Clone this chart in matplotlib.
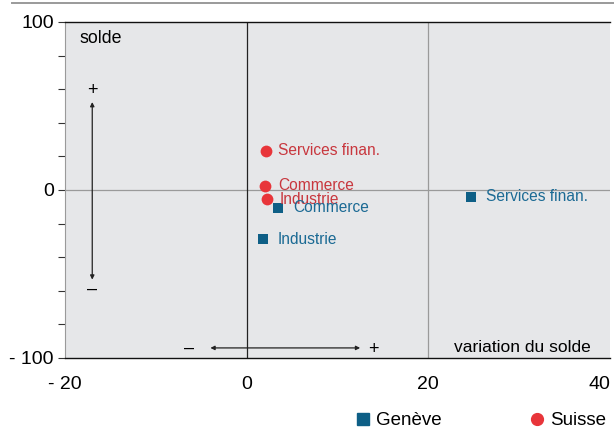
import matplotlib
matplotlib.use("Agg")
import matplotlib.pyplot as plt
from matplotlib.lines import Line2D

plt.rcParams['font.family'] = ['Liberation Sans', 'DejaVu Sans']

categories = ["Services finan.", "Commerce", "Industrie"]
suisse_x = [2.1, 2.05, 2.2]
suisse_y = [23.5, 2.5, -5.4]
geneve_x = [24.7, 3.5, 1.8]
geneve_y = [-4.0, -10.5, -29.3]

xticks = [-20, 0, 20, 40]
xticklabels = ["- 20", "0", "20", "40"]
yticks = [-100, 0, 100]
yticklabels = ["- 100", "0", "100"]

red = "#e8353a"
red_txt = "#c8373e"
blue = "#0e5f86"
blue_txt = "#1b6a94"

fig = plt.figure(figsize=(6.14, 4.28), dpi=100)
ax = fig.add_axes([65/614, 1-358/428, (610-65)/614, (358-22)/428])
ax.set_facecolor("#e6e7e9")
ax.set_xlim(-20, 40)
ax.set_ylim(-100, 100)

ax.axhline(0, color="#9a9a9a", lw=0.9, zorder=1)
ax.axvline(0, color="#222222", lw=0.9, zorder=1)
ax.axvline(20, color="#9a9a9a", lw=0.9, zorder=1)

ax.scatter(suisse_x, suisse_y, marker="o", s=72, color=red, zorder=3, linewidths=0)
ax.scatter(geneve_x, geneve_y, marker="s", s=58, color=blue, zorder=3, linewidths=0)

for x, y, t in zip(suisse_x, suisse_y, categories):
    ax.annotate(t, (x, y), xytext=(9, 0), textcoords="offset points",
                color=red_txt, fontsize=11.2, va="center", ha="left", zorder=4)
for x, y, t in zip(geneve_x, geneve_y, categories):
    ax.annotate(t, (x, y), xytext=(10.5, 0), textcoords="offset points",
                color=blue_txt, fontsize=11.2, va="center", ha="left", zorder=4)

ax.text(-18.4, 90, "solde", fontsize=12.8, va="center", ha="left")
ax.text(37.9, -94, "variation du solde", fontsize=12.5, va="center", ha="right")

ax.annotate("", xy=(-17, 54), xytext=(-17, -55),
            arrowprops=dict(arrowstyle="<|-|>", color="#222222", lw=0.9, mutation_scale=6))
ax.text(-17, 59.5, "+", fontsize=13, ha="center", va="center")
ax.text(-17, -59, "–", fontsize=13, ha="center", va="center")
ax.annotate("", xy=(-4.3, -94), xytext=(12.8, -94),
            arrowprops=dict(arrowstyle="<|-|>", color="#222222", lw=0.9, mutation_scale=6))
ax.text(-6.3, -94, "–", fontsize=13, ha="center", va="center")
ax.text(14, -95, "+", fontsize=13, ha="center", va="center")

ax.set_xticks(xticks)
ax.set_xticklabels(xticklabels, fontsize=14)
ax.get_xticklabels()[-1].set_horizontalalignment("right")
ax.set_yticks(yticks)
ax.set_yticklabels(yticklabels, fontsize=14)
ax.set_yticks(range(-100, 101, 20), minor=True)
ax.tick_params(axis="x", length=0, pad=13)
ax.tick_params(axis="y", which="both", length=5, color="#333333", width=0.8, pad=3)

for s in ["top", "bottom"]:
    ax.spines[s].set_color("#111111")
    ax.spines[s].set_linewidth(1.0)
ax.spines["left"].set_color("#9a9a9a")
ax.spines["right"].set_visible(False)

fig.add_artist(Line2D([12/614, 1], [1-2.5/428, 1-2.5/428], color="#9a9a9a", lw=1.4))

handles = [Line2D([], [], marker="s", color=blue, ls="none", markersize=8.5),
           Line2D([], [], marker="o", color=red, ls="none", markersize=8.5)]
fig.legend(handles, ["Genève", "Suisse"], loc="lower right", bbox_to_anchor=(1.015, -0.042),
           ncol=2, frameon=False, fontsize=13.5, handletextpad=0.2, columnspacing=4.6,
           handlelength=1.0)

fig.savefig("out.png", dpi=100)
